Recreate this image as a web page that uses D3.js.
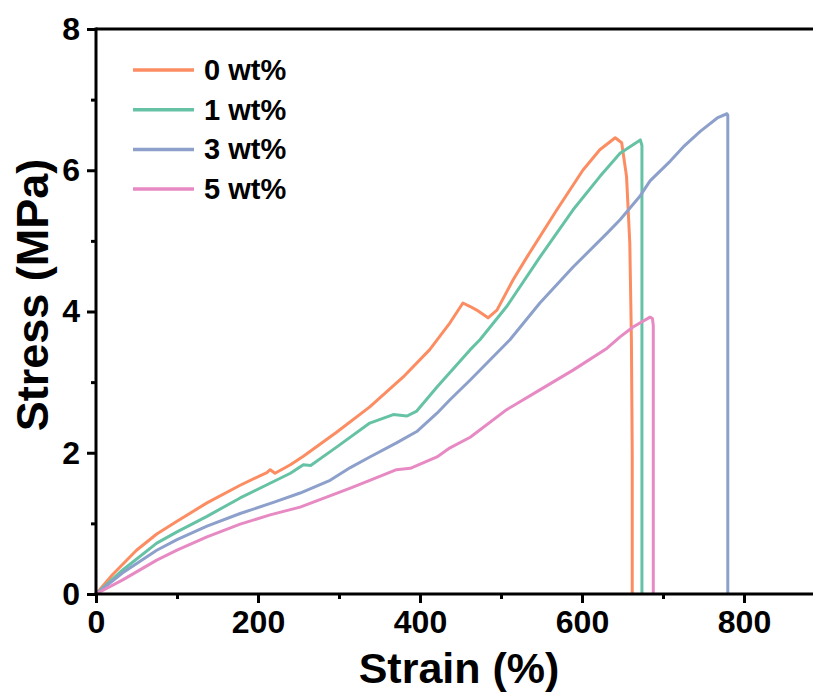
<!DOCTYPE html>
<html>
<head>
<meta charset="utf-8">
<script src="https://cdn.jsdelivr.net/npm/d3@7"></script>
<style>
  html, body { margin: 0; padding: 0; background: #fff; }
  svg { display: block; }
  text { font-family: "Liberation Sans", Arial, sans-serif; font-weight: bold; fill: #000; }
</style>
</head>
<body>
<svg id="chart" width="813" height="695"></svg>
<script>
// ---- data ----
const seriesNames = ["0 wt%", "1 wt%", "3 wt%", "5 wt%"];
const seriesColors = ["#FC8D62", "#66C2A5", "#8DA0CB", "#E78AC3"];

const strain0 = [0, 20, 50, 75, 100, 137, 178, 211, 215, 221, 240, 256, 297, 338, 379, 412, 437, 453, 462, 470, 484, 495, 515, 532, 569, 601, 622, 641, 649, 655, 659, 661, 662, 662];
const stress0 = [0, 0.27, 0.62, 0.85, 1.03, 1.29, 1.54, 1.72, 1.76, 1.71, 1.83, 1.95, 2.29, 2.65, 3.07, 3.46, 3.84, 4.12, 4.07, 4.02, 3.91, 4.02, 4.45, 4.77, 5.44, 6.0, 6.29, 6.46, 6.39, 5.91, 4.97, 3.6, 2.0, 0];

const strain1 = [0, 33, 75, 100, 137, 178, 240, 256, 265, 297, 338, 367, 384, 396, 421, 462, 474, 507, 548, 589, 622, 647, 672, 674, 674];
const stress1 = [0, 0.34, 0.72, 0.88, 1.10, 1.36, 1.71, 1.83, 1.82, 2.08, 2.42, 2.54, 2.52, 2.59, 2.93, 3.46, 3.6, 4.07, 4.77, 5.44, 5.91, 6.24, 6.43, 6.35, 0];

const strain3 = [0, 33, 75, 100, 137, 178, 220, 252, 289, 314, 338, 371, 396, 421, 437, 462, 511, 548, 589, 631, 647, 672, 684, 709, 725, 746, 767, 779, 780, 780];
const stress3 = [0, 0.30, 0.62, 0.77, 0.96, 1.14, 1.30, 1.43, 1.61, 1.79, 1.94, 2.14, 2.30, 2.56, 2.75, 3.03, 3.6, 4.12, 4.63, 5.11, 5.30, 5.64, 5.85, 6.13, 6.33, 6.55, 6.74, 6.80, 6.78, 0];

const strain5 = [0, 33, 75, 100, 137, 178, 215, 252, 314, 338, 371, 388, 421, 437, 462, 507, 548, 589, 631, 647, 663, 684, 687, 688, 688];
const stress5 = [0, 0.20, 0.48, 0.62, 0.81, 0.99, 1.12, 1.23, 1.50, 1.61, 1.76, 1.78, 1.94, 2.07, 2.22, 2.61, 2.89, 3.17, 3.48, 3.64, 3.78, 3.92, 3.90, 3.80, 0];

const xTickValues = [0, 200, 400, 600, 800];
const xMinorTicks = [100, 300, 500, 700, 900];
const yTickValues = [0, 2, 4, 6, 8];
const yMinorTicks = [1, 3, 5, 7];

const xTitle = "Strain (%)";
const yTitle = "Stress (MPa)";

// ---- build ----
const strains = [strain0, strain1, strain3, strain5];
const stresses = [stress0, stress1, stress3, stress5];
const series = seriesNames.map((n, i) => ({
  name: n, color: seriesColors[i],
  pts: strains[i].map((s, j) => [s, stresses[i][j]])
}));

const svg = d3.select("#chart");
const x = d3.scaleLinear().domain([0, 900]).range([96, 825]);
const y = d3.scaleLinear().domain([0, 8]).range([594, 29]);

// lines
const line = d3.line().x(d => x(d[0])).y(d => y(d[1]));
svg.append("g").selectAll("path").data(series).join("path")
  .attr("d", d => line(d.pts))
  .attr("fill", "none")
  .attr("stroke", d => d.color)
  .attr("stroke-width", 3)
  .attr("stroke-linejoin", "round");

// axes
const axisW = 3;
const xAxis = svg.append("g").attr("transform", `translate(0,${y(0)})`)
  .call(d3.axisBottom(x).tickValues(xTickValues).tickSize(9).tickPadding(7).tickFormat(d3.format("d")));
const xMinor = svg.append("g").attr("transform", `translate(0,${y(0)})`)
  .call(d3.axisBottom(x).tickValues(xMinorTicks).tickSize(5).tickFormat(""));
const yAxis = svg.append("g").attr("transform", `translate(${x(0)},0)`)
  .call(d3.axisLeft(y).tickValues(yTickValues).tickSize(9).tickPadding(7).tickFormat(d3.format("d")));
const yMinor = svg.append("g").attr("transform", `translate(${x(0)},0)`)
  .call(d3.axisLeft(y).tickValues(yMinorTicks).tickSize(5).tickFormat(""));

[xAxis, xMinor, yAxis, yMinor].forEach(g => {
  g.select(".domain").remove();
  g.attr("font-family", null).attr("font-size", null);
  g.selectAll(".tick line").attr("stroke", "#000").attr("stroke-width", axisW);
});
xAxis.selectAll(".tick text").style("font-size", "32px");
yAxis.selectAll(".tick text").style("font-size", "32px");

// axis lines (bottom, left, top)
svg.append("line").attr("x1", x(0) - axisW / 2).attr("x2", 813).attr("y1", y(0)).attr("y2", y(0))
  .attr("stroke", "#000").attr("stroke-width", axisW);
svg.append("line").attr("x1", x(0)).attr("x2", x(0)).attr("y1", y(8) - axisW / 2).attr("y2", y(0) + axisW / 2)
  .attr("stroke", "#000").attr("stroke-width", axisW);
svg.append("line").attr("x1", x(0)).attr("x2", 813).attr("y1", y(8)).attr("y2", y(8))
  .attr("stroke", "#000").attr("stroke-width", axisW);

// titles
svg.append("text").attr("x", 459).attr("y", 683)
  .attr("text-anchor", "middle").style("font-size", "43px").text(xTitle);
svg.append("text").attr("transform", `translate(48,295) rotate(-90)`)
  .attr("text-anchor", "middle").style("font-size", "45px").text(yTitle);

// legend
const leg = svg.append("g");
series.forEach((s, i) => {
  const ly = 70 + i * 39.7;
  leg.append("line").attr("x1", 133).attr("x2", 194).attr("y1", ly).attr("y2", ly)
    .attr("stroke", s.color).attr("stroke-width", 3.5);
  leg.append("text").attr("x", 204).attr("y", ly + 10).style("font-size", "29px").text(s.name);
});
</script>
</body>
</html>
